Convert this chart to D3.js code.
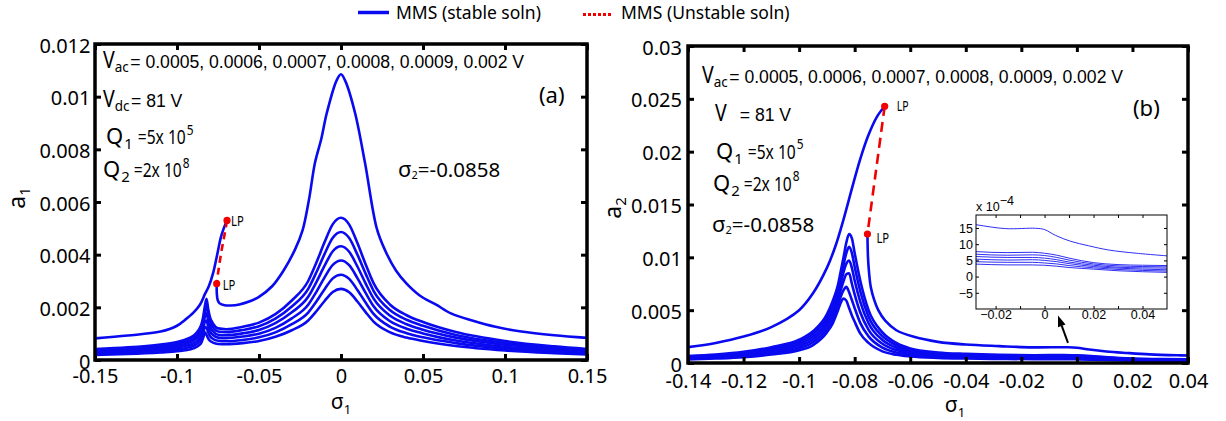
<!DOCTYPE html>
<html>
<head>
<meta charset="utf-8">
<script src="https://cdn.jsdelivr.net/npm/d3@7"></script>
<style>
  body { margin: 0; background: #fff; }
  svg { display: block; }
</style>
</head>
<body>
<svg id="fig" width="1226" height="421"></svg>
<script>
// ---------------- data ----------------
// Panel (a): mode-1 amplitude a1 versus detuning sigma1 (sigma2 = -0.0858)
const sigmaA = [-0.15, -0.13, -0.11, -0.10, -0.095, -0.09, -0.087, -0.085, -0.084, -0.083, -0.082, -0.081, -0.080, -0.078, -0.075, -0.07, -0.06, -0.05, -0.04, -0.03, -0.02, -0.015, -0.01, -0.005, 0, 0.005, 0.01, 0.015, 0.02, 0.03, 0.04, 0.05, 0.07, 0.1, 0.13, 0.15];
const a1V05 = [0.00019, 0.00023, 0.00029, 0.00033, 0.00037, 0.00044, 0.00054, 0.00068, 0.00085, 0.00105, 0.00095, 0.00082, 0.00074, 0.00066, 0.00061, 0.00060, 0.00064, 0.00072, 0.00088, 0.00113, 0.00150, 0.00185, 0.00224, 0.00258, 0.00270, 0.00257, 0.00222, 0.00182, 0.00145, 0.00105, 0.00085, 0.00072, 0.00053, 0.00036, 0.00026, 0.00021];
const a1V06 = [0.00024, 0.00028, 0.00035, 0.00040, 0.00045, 0.00054, 0.00066, 0.00082, 0.00101, 0.00125, 0.00122, 0.00105, 0.00092, 0.00080, 0.00073, 0.00071, 0.00076, 0.00086, 0.00105, 0.00136, 0.00180, 0.00222, 0.00269, 0.00310, 0.00324, 0.00308, 0.00266, 0.00218, 0.00174, 0.00126, 0.00102, 0.00086, 0.00064, 0.00043, 0.00031, 0.00025];
const a1V07 = [0.00028, 0.00033, 0.00041, 0.00047, 0.00053, 0.00063, 0.00077, 0.00096, 0.00117, 0.00145, 0.00150, 0.00127, 0.00110, 0.00095, 0.00085, 0.00083, 0.00089, 0.00100, 0.00122, 0.00158, 0.00210, 0.00259, 0.00314, 0.00361, 0.00378, 0.00360, 0.00311, 0.00255, 0.00203, 0.00147, 0.00119, 0.00101, 0.00074, 0.00050, 0.00036, 0.00029];
const a1V08 = [0.00033, 0.00038, 0.00047, 0.00054, 0.00061, 0.00073, 0.00089, 0.00110, 0.00133, 0.00165, 0.00177, 0.00150, 0.00129, 0.00109, 0.00096, 0.00094, 0.00101, 0.00114, 0.00140, 0.00181, 0.00240, 0.00296, 0.00358, 0.00413, 0.00432, 0.00411, 0.00355, 0.00291, 0.00232, 0.00168, 0.00136, 0.00115, 0.00085, 0.00058, 0.00042, 0.00034];
const a1V09 = [0.00037, 0.00043, 0.00053, 0.00061, 0.00069, 0.00082, 0.00100, 0.00124, 0.00149, 0.00185, 0.00205, 0.00172, 0.00147, 0.00124, 0.00108, 0.00106, 0.00114, 0.00128, 0.00157, 0.00203, 0.00270, 0.00333, 0.00403, 0.00464, 0.00486, 0.00463, 0.00400, 0.00328, 0.00261, 0.00189, 0.00153, 0.00130, 0.00095, 0.00065, 0.00047, 0.00038];
const a1V10 = [0.00042, 0.00048, 0.00059, 0.00068, 0.00077, 0.00092, 0.00112, 0.00138, 0.00165, 0.00205, 0.00232, 0.00195, 0.00165, 0.00138, 0.00120, 0.00117, 0.00126, 0.00142, 0.00174, 0.00226, 0.00300, 0.00370, 0.00448, 0.00516, 0.00540, 0.00514, 0.00444, 0.00364, 0.00290, 0.00210, 0.00170, 0.00144, 0.00106, 0.00072, 0.00052, 0.00042];

// Vac = 0.002 V: stable branch up to the upper limit point, unstable branch, stable return branch
const a1HiUpS = [-0.15, -0.13, -0.11, -0.10, -0.095, -0.09, -0.086, -0.083, -0.0806, -0.078, -0.0755, -0.0733, -0.0715, -0.0695];
const a1HiUpV = [0.00082, 0.00093, 0.00108, 0.00130, 0.00153, 0.00180, 0.00210, 0.00250, 0.00280, 0.00330, 0.00400, 0.00465, 0.00500, 0.00530];
const a1HiUnS = [-0.0695, -0.0712, -0.0727, -0.0745, -0.0758];
const a1HiUnV = [0.00530, 0.00470, 0.00420, 0.00350, 0.00290];
const a1HiLoS = [-0.0758, -0.0757, -0.0752, -0.074, -0.071, -0.067, -0.062, -0.056, -0.05, -0.042, -0.035, -0.028, -0.0234, -0.0195, -0.0159, -0.012, -0.0087, -0.0026, 0, 0.0026, 0.0085, 0.0146, 0.0218, 0.027, 0.0335, 0.04, 0.048, 0.058, 0.0674, 0.08, 0.0942, 0.11, 0.13, 0.15];
const a1HiLoV = [0.00290, 0.00250, 0.00228, 0.00215, 0.00208, 0.00207, 0.00211, 0.00222, 0.00240, 0.00280, 0.00340, 0.00420, 0.00493, 0.00610, 0.00748, 0.00840, 0.00937, 0.01063, 0.01085, 0.01060, 0.00940, 0.00750, 0.00500, 0.00415, 0.00340, 0.00290, 0.00245, 0.00210, 0.00176, 0.00150, 0.00126, 0.00108, 0.00094, 0.00084];
const a1LimitS = [-0.0695, -0.0758];
const a1LimitV = [0.00530, 0.00290];

// Panel (b): mode-2 amplitude a2 versus sigma1
const sigmaB = [-0.14, -0.13, -0.12, -0.11, -0.10, -0.095, -0.09, -0.088, -0.086, -0.085, -0.084, -0.083, -0.082, -0.081, -0.080, -0.078, -0.075, -0.07, -0.065, -0.06, -0.05, -0.04, -0.028, -0.015, -0.005, 0, 0.005, 0.01, 0.02, 0.03, 0.04, 0.05];
const a2V05 = [0.00033, 0.00042, 0.00055, 0.00080, 0.00120, 0.00170, 0.00290, 0.00370, 0.00500, 0.00570, 0.00610, 0.00590, 0.00520, 0.00450, 0.00390, 0.00280, 0.00190, 0.00110, 0.00078, 0.00062, 0.00048, 0.00042, 0.000385, 0.00036, 0.00036, 0.00035, 0.00032, 0.00028, 0.00023, 0.00018, 0.00015, 0.00013];
const a2V06 = [0.00040, 0.00050, 0.00065, 0.00094, 0.00140, 0.00196, 0.00324, 0.00412, 0.00548, 0.00630, 0.00690, 0.00720, 0.00670, 0.00596, 0.00520, 0.00380, 0.00252, 0.00146, 0.00100, 0.00077, 0.00058, 0.00051, 0.00046, 0.00044, 0.00044, 0.00042, 0.00039, 0.00034, 0.00027, 0.00022, 0.00019, 0.00017];
const a2V07 = [0.00046, 0.00057, 0.00075, 0.00108, 0.00160, 0.00222, 0.00358, 0.00454, 0.00596, 0.00690, 0.00775, 0.00840, 0.00850, 0.00750, 0.00650, 0.00480, 0.00314, 0.00182, 0.00123, 0.00092, 0.00069, 0.00060, 0.00054, 0.00051, 0.00052, 0.00050, 0.00046, 0.00040, 0.00031, 0.00026, 0.00023, 0.00021];
const a2V08 = [0.00053, 0.00065, 0.00085, 0.00122, 0.00180, 0.00248, 0.00392, 0.00496, 0.00644, 0.00750, 0.00860, 0.00940, 0.00970, 0.00900, 0.00780, 0.00580, 0.00376, 0.00218, 0.00145, 0.00108, 0.00079, 0.00068, 0.00062, 0.00059, 0.00059, 0.00057, 0.00052, 0.00045, 0.00035, 0.00029, 0.00027, 0.00026];
const a2V09 = [0.00059, 0.00072, 0.00095, 0.00136, 0.00200, 0.00274, 0.00426, 0.00538, 0.00692, 0.00810, 0.00930, 0.01040, 0.01100, 0.01040, 0.00910, 0.00680, 0.00438, 0.00254, 0.00168, 0.00123, 0.00090, 0.00077, 0.00069, 0.00066, 0.00067, 0.00065, 0.00059, 0.00051, 0.00039, 0.00033, 0.00031, 0.00030];
const a2V10 = [0.00066, 0.00080, 0.00105, 0.00150, 0.00220, 0.00300, 0.00460, 0.00580, 0.00740, 0.00870, 0.01000, 0.01140, 0.01220, 0.01180, 0.01040, 0.00780, 0.00500, 0.00290, 0.00190, 0.00138, 0.00100, 0.00086, 0.00077, 0.00074, 0.00075, 0.00072, 0.00066, 0.00057, 0.00043, 0.00037, 0.00035, 0.00034];

const a2HiUpS = [-0.14, -0.13, -0.12, -0.11, -0.10, -0.095, -0.09, -0.087, -0.084, -0.081, -0.078, -0.075, -0.072, -0.0692];
const a2HiUpV = [0.0015, 0.0019, 0.0025, 0.0034, 0.0050, 0.0066, 0.0090, 0.0110, 0.0136, 0.0165, 0.0193, 0.0216, 0.0233, 0.0243];
const a2HiUnS = [-0.0692, -0.0723, -0.0754];
const a2HiUnV = [0.0243, 0.01825, 0.0122];
const a2HiLoS = [-0.0754, -0.0752, -0.0748, -0.0742, -0.073, -0.0715, -0.069, -0.065, -0.059, -0.05, -0.04, -0.028, -0.0159, -0.0037, 0, 0.0045, 0.0106, 0.018, 0.0262, 0.0375, 0.05];
const a2HiLoV = [0.0122, 0.0100, 0.0085, 0.0072, 0.0060, 0.0050, 0.0040, 0.0031, 0.0025, 0.0020, 0.00175, 0.0016, 0.00148, 0.00149, 0.00145, 0.00127, 0.00109, 0.00095, 0.00082, 0.00072, 0.00064];
const a2LimitS = [-0.0692, -0.0754];
const a2LimitV = [0.0243, 0.0122];

// ticks
const xTicksA = [-0.15, -0.1, -0.05, 0, 0.05, 0.1, 0.15];
const xLabelsA = ['-0.15', '-0.1', '-0.05', '0', '0.05', '0.1', '0.15'];
const yTicksA = [0, 0.002, 0.004, 0.006, 0.008, 0.01, 0.012];
const yLabelsA = ['0', '0.002', '0.004', '0.006', '0.008', '0.01', '0.012'];
const xTicksB = [-0.14, -0.12, -0.1, -0.08, -0.06, -0.04, -0.02, 0, 0.02, 0.04];
const xLabelsB = ['-0.14', '-0.12', '-0.1', '-0.08', '-0.06', '-0.04', '-0.02', '0', '0.02', '0.04'];
const yTicksB = [0, 0.005, 0.01, 0.015, 0.02, 0.025, 0.03];
const yLabelsB = ['0', '0.005', '0.01', '0.015', '0.02', '0.025', '0.03'];
const xTicksIn = [-0.02, -0.01, 0, 0.01, 0.02, 0.03, 0.04];
const xLabelsIn = ['\u22120.02', '', '0', '', '0.02', '', '0.04'];
const yTicksIn = [-5, 0, 5, 10, 15];
const yLabelsIn = ['\u22125', '0', '5', '10', '15'];

// arrow pointing from the inset to the zoomed stretch of panel (b): [sigma1, a2]
const arrowTail = [-0.0032, 0.0019];
const arrowHead = [-0.0068, 0.0045];

// ---------------- drawing ----------------
const BLUE = '#0a0af0';
const RED = '#f20000';
const SANS = "'Noto Sans', 'Open Sans', sans-serif";
const ARIAL = "'Liberation Sans', Arial, sans-serif";

const svg = d3.select('#fig');
const defs = svg.append('defs');

const zip = (s, v) => s.map((d, i) => [d, v[i]]);

function styleAxis(sel, o) {
  sel.select('.domain').remove();
  sel.attr('font-family', o.font).attr('font-size', o.fontSize);
  sel.selectAll('.tick line').attr('stroke', '#000').attr('stroke-width', o.tickW);
  sel.selectAll('.tick text').attr('fill', '#000');
}

function drawFrame(g, o) {
  const [x0, x1] = o.x.range();
  const [yb, yt] = o.y.range();
  const fmt = (vals, labels) => d => labels[vals.indexOf(d)];
  g.append('g').attr('transform', `translate(0,${yb})`)
    .call(d3.axisBottom(o.x).tickValues(o.xTicks).tickFormat(fmt(o.xTicks, o.xLabels))
      .tickSizeInner(-o.tickLen).tickSizeOuter(0).tickPadding(o.xPad))
    .call(s => styleAxis(s, o));
  g.append('g').attr('transform', `translate(0,${yt})`)
    .call(d3.axisTop(o.x).tickValues(o.xTicks).tickFormat('')
      .tickSizeInner(-o.tickLen).tickSizeOuter(0))
    .call(s => styleAxis(s, o));
  const left = g.append('g').attr('transform', `translate(${x0},0)`)
    .call(d3.axisLeft(o.y).tickValues(o.yTicks).tickFormat(fmt(o.yTicks, o.yLabels))
      .tickSizeInner(-o.tickLen).tickSizeOuter(0).tickPadding(o.yPad))
    .call(s => styleAxis(s, o));
  left.selectAll('.tick text').attr('dy', o.yDy);
  g.append('g').attr('transform', `translate(${x1},0)`)
    .call(d3.axisRight(o.y).tickValues(o.yTicks).tickFormat('')
      .tickSizeInner(-o.tickLen).tickSizeOuter(0))
    .call(s => styleAxis(s, o));
  g.append('rect').attr('x', x0).attr('y', yt).attr('width', x1 - x0).attr('height', yb - yt)
    .attr('fill', 'none').attr('stroke', '#000').attr('stroke-width', o.frameW);
}

function clipFor(id, x, y) {
  const [x0, x1] = x.range();
  const [yb, yt] = y.range();
  defs.append('clipPath').attr('id', id).append('rect')
    .attr('x', x0).attr('y', yt).attr('width', x1 - x0).attr('height', yb - yt);
  return `url(#${id})`;
}

// rich text made of pieces with their own size, baseline shift and horizontal squeeze
function rich(parent, x, y, pieces) {
  let cx = x;
  pieces.forEach(p => {
    cx += p.gap || 0;
    const sx = p.sx || 1;
    const t = parent.append('text')
      .attr('font-family', p.font || SANS)
      .attr('font-size', p.size)
      .attr('fill', '#000')
      .attr('transform', `translate(${cx},${y + (p.dy || 0)}) scale(${sx},1)`)
      .text(p.t);
    cx += t.node().getComputedTextLength() * sx;
  });
}

function drawCurves(g, x, y, grid, families, branches, o) {
  const gridLine = d3.line().x((d, i) => x(grid[i])).y(d => y(d)).curve(d3.curveMonotoneX);
  const xyLine = d3.line().x(d => x(d[0])).y(d => y(d[1])).curve(d3.curveCatmullRom.alpha(0.5));
  families.forEach(vals => {
    g.append('path').attr('d', gridLine(vals)).attr('fill', 'none')
      .attr('stroke', BLUE).attr('stroke-width', o.lw).attr('stroke-linejoin', 'round').attr('opacity', o.op || 1);
  });
  branches.forEach(b => {
    const p = g.append('path').attr('d', xyLine(zip(b.s, b.v))).attr('fill', 'none')
      .attr('stroke', b.dash ? RED : BLUE).attr('stroke-width', o.lw)
      .attr('stroke-linejoin', 'round').attr('opacity', b.dash ? 1 : (o.op || 1));
    if (b.dash) p.attr('stroke-dasharray', o.dash);
  });
}

// ---- legend ----
svg.append('line').attr('x1', 358).attr('x2', 389).attr('y1', 12.5).attr('y2', 12.5)
  .attr('stroke', BLUE).attr('stroke-width', 3.5);
svg.append('text').attr('x', 396).attr('y', 18.5).attr('font-family', SANS).attr('font-size', 17.5)
  .text('MMS (stable soln)');
svg.append('line').attr('x1', 583).attr('x2', 613).attr('y1', 14.5).attr('y2', 14.5)
  .attr('stroke', RED).attr('stroke-width', 3).attr('stroke-dasharray', '3,2');
svg.append('text').attr('x', 621).attr('y', 18.5).attr('font-family', SANS).attr('font-size', 17.5)
  .text('MMS (Unstable soln)');

// ---- panel (a) ----
const xA = d3.scaleLinear().domain([-0.15, 0.15]).range([95, 587]);
const yA = d3.scaleLinear().domain([0, 0.012]).range([360, 44]);
const gA = svg.append('g');
const plotA = gA.append('g').attr('clip-path', clipFor('clipA', xA, yA));
drawCurves(plotA, xA, yA, sigmaA,
  [a1V05, a1V06, a1V07, a1V08, a1V09, a1V10],
  [{ s: a1HiUpS, v: a1HiUpV }, { s: a1HiLoS, v: a1HiLoV }, { s: a1HiUnS, v: a1HiUnV, dash: true }],
  { lw: 2.6, dash: '7,5' });
a1LimitS.forEach((s, i) => {
  gA.append('circle').attr('cx', xA(s)).attr('cy', yA(a1LimitV[i])).attr('r', 3.6).attr('fill', RED);
});
rich(gA, xA(a1LimitS[0]) + 4, yA(a1LimitV[0]) + 6, [{ t: 'LP', size: 15, sx: 0.75 }]);
rich(gA, xA(a1LimitS[1]) + 6, yA(a1LimitV[1]) + 6, [{ t: 'LP', size: 15, sx: 0.75 }]);
drawFrame(gA, {
  x: xA, y: yA, xTicks: xTicksA, xLabels: xLabelsA, yTicks: yTicksA, yLabels: yLabelsA,
  font: SANS, fontSize: 20, tickLen: 6, tickW: 3, frameW: 3.5, xPad: 9, yPad: 4.5, yDy: '0.4em'
});

// annotations (a)
rich(gA, 103, 68, [{ t: 'V', size: 23, sx: 0.85 }, { t: 'ac', size: 15, dy: 4, sx: 0.9 },
  { t: '= 0.0005, 0.0006, 0.0007, 0.0008, 0.0009, 0.002 V', size: 17.6, font: ARIAL, gap: 1.5 }]);
rich(gA, 103, 107, [{ t: 'V', size: 23, sx: 0.85 }, { t: 'dc', size: 15, dy: 4, sx: 0.9 },
  { t: '= 81 V', size: 17.6, font: ARIAL, gap: 1.5 }]);
rich(gA, 106, 144, [{ t: 'Q', size: 22 }, { t: '1', size: 15, dy: 5, gap: 1 },
  { t: '=5x 10', size: 20, sx: 0.78, gap: 5 }, { t: '5', size: 14, dy: -9, sx: 0.85, gap: 1 }]);
rich(gA, 103, 177, [{ t: 'Q', size: 22 }, { t: '2', size: 15, dy: 5, gap: 1 },
  { t: '=2x 10', size: 20, sx: 0.78, gap: 4 }, { t: '8', size: 14, dy: -9, sx: 0.85, gap: 1 }]);
rich(gA, 398, 177, [{ t: '\u03c3', size: 22 }, { t: '2', size: 11, dy: 2 }, { t: '=-0.0858', size: 20.5 }]);
gA.append('text').attr('x', 539).attr('y', 103).attr('font-family', SANS).attr('font-size', 22).text('(a)');

const ylA = gA.append('text').attr('transform', 'translate(25,198) rotate(-90)')
  .attr('text-anchor', 'middle').attr('font-family', SANS);
ylA.append('tspan').attr('font-size', 23).text('a');
ylA.append('tspan').attr('font-size', 15).attr('dy', 5).text('1');
const xlA = gA.append('text').attr('x', 341).attr('y', 409).attr('text-anchor', 'middle').attr('font-family', SANS);
xlA.append('tspan').attr('font-size', 21).text('\u03c3');
xlA.append('tspan').attr('font-size', 13).attr('dy', 5).text('1');

// ---- panel (b) ----
const xB = d3.scaleLinear().domain([-0.14, 0.04]).range([688, 1188]);
const yB = d3.scaleLinear().domain([0, 0.03]).range([363, 46]);
const gB = svg.append('g');
const plotB = gB.append('g').attr('clip-path', clipFor('clipB', xB, yB));
drawCurves(plotB, xB, yB, sigmaB,
  [a2V05, a2V06, a2V07, a2V08, a2V09, a2V10],
  [{ s: a2HiUpS, v: a2HiUpV }, { s: a2HiLoS, v: a2HiLoV }, { s: a2HiUnS, v: a2HiUnV, dash: true }],
  { lw: 2.6, dash: '10,6' });
a2LimitS.forEach((s, i) => {
  gB.append('circle').attr('cx', xB(s)).attr('cy', yB(a2LimitV[i])).attr('r', 3.6).attr('fill', RED);
});
rich(gB, xB(a2LimitS[0]) + 12, yB(a2LimitV[0]) + 5, [{ t: 'LP', size: 14, sx: 0.75 }]);
rich(gB, xB(a2LimitS[1]) + 9, yB(a2LimitV[1]) + 9, [{ t: 'LP', size: 15, sx: 0.75 }]);
drawFrame(gB, {
  x: xB, y: yB, xTicks: xTicksB, xLabels: xLabelsB, yTicks: yTicksB, yLabels: yLabelsB,
  font: SANS, fontSize: 20, tickLen: 6, tickW: 3, frameW: 3.5, xPad: 10.5, yPad: 6, yDy: '0.4em'
});

rich(gB, 702, 83, [{ t: 'V', size: 23, sx: 0.85 }, { t: 'ac', size: 15, dy: 4, sx: 0.9 },
  { t: '= 0.0005, 0.0006, 0.0007, 0.0008, 0.0009, 0.002 V', size: 17.6, font: ARIAL, gap: 1.5 }]);
rich(gB, 715, 121, [{ t: 'V', size: 23, sx: 0.85 }, { t: '= 81 V', size: 17.6, font: ARIAL, gap: 13 }]);
rich(gB, 716, 159, [{ t: 'Q', size: 22 }, { t: '1', size: 15, dy: 5, gap: 1 },
  { t: '=5x 10', size: 20, sx: 0.78, gap: 5 }, { t: '5', size: 14, dy: -10, sx: 0.85, gap: 1 }]);
rich(gB, 713, 191, [{ t: 'Q', size: 22 }, { t: '2', size: 15, dy: 5, gap: 1 },
  { t: '=2x 10', size: 20, sx: 0.78, gap: 4 }, { t: '8', size: 14, dy: -10, sx: 0.85, gap: 1 }]);
rich(gB, 712, 232, [{ t: '\u03c3', size: 22 }, { t: '2', size: 11, dy: 2 }, { t: '=-0.0858', size: 20.5 }]);
gB.append('text').attr('x', 1133).attr('y', 116).attr('font-family', SANS).attr('font-size', 22).text('(b)');

const ylB = gB.append('text').attr('transform', 'translate(621,208) rotate(-90)')
  .attr('text-anchor', 'middle').attr('font-family', SANS);
ylB.append('tspan').attr('font-size', 23).text('a');
ylB.append('tspan').attr('font-size', 15).attr('dy', 5).text('2');
const xlB = gB.append('text').attr('x', 955).attr('y', 412).attr('text-anchor', 'middle').attr('font-family', SANS);
xlB.append('tspan').attr('font-size', 21).text('\u03c3');
xlB.append('tspan').attr('font-size', 13).attr('dy', 5).text('1');

// ---- inset: panel (b) curves near sigma1 = 0, a2 in units of 1e-4 ----
const xIn = d3.scaleLinear().domain([-0.028, 0.05]).range([976, 1167]);
const yIn = d3.scaleLinear().domain([-10, 19]).range([309, 215]);
const gIn = svg.append('g');
gIn.append('rect').attr('x', 976).attr('y', 215).attr('width', 191).attr('height', 94).attr('fill', '#fff');
const plotIn = gIn.append('g').attr('clip-path', clipFor('clipIn', xIn, yIn));
const scale4 = v => v * 1e4;
drawCurves(plotIn, xIn, yIn, sigmaB,
  [a2V05, a2V06, a2V07, a2V08, a2V09, a2V10].map(a => a.map(scale4)),
  [{ s: a2HiLoS, v: a2HiLoV.map(scale4) }],
  { lw: 1, op: 0.85 });
drawFrame(gIn, {
  x: xIn, y: yIn, xTicks: xTicksIn, xLabels: xLabelsIn, yTicks: yTicksIn, yLabels: yLabelsIn,
  font: ARIAL, fontSize: 12.5, tickLen: 3, tickW: 1, frameW: 1, xPad: 1.5, yPad: 3, yDy: '0.34em'
});
rich(gIn, 976, 211, [{ t: 'x 10', size: 12.5, font: ARIAL }, { t: '\u22124', size: 12.5, font: ARIAL, dy: -6 }]);

// arrow
{
  const tx = xB(arrowTail[0]), ty = yB(arrowTail[1]);
  const hx = xB(arrowHead[0]), hy = yB(arrowHead[1]);
  const ang = Math.atan2(hy - ty, hx - tx);
  const L = 11, W = 4;
  const bx = hx - L * Math.cos(ang), by = hy - L * Math.sin(ang);
  gB.append('line').attr('x1', tx).attr('y1', ty).attr('x2', bx).attr('y2', by)
    .attr('stroke', '#000').attr('stroke-width', 2);
  gB.append('polygon').attr('fill', '#000').attr('points', [
    [hx, hy],
    [bx + W * Math.sin(ang), by - W * Math.cos(ang)],
    [bx - W * Math.sin(ang), by + W * Math.cos(ang)]
  ].map(p => p.join(',')).join(' '));
}
</script>
</body>
</html>
